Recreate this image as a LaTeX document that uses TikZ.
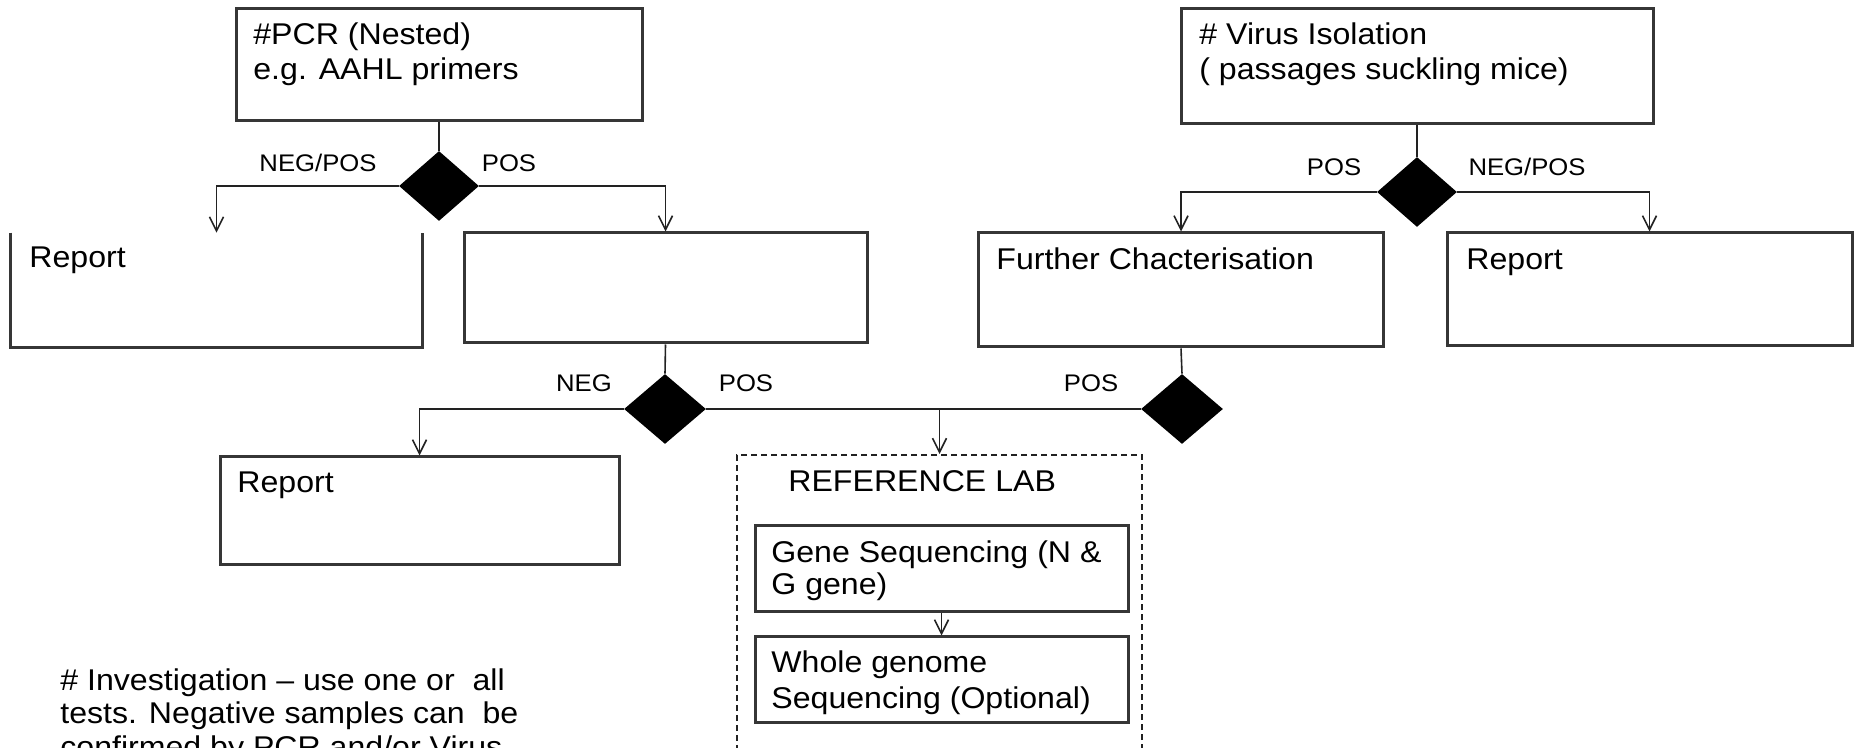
\documentclass[tikz,border=0pt]{standalone}
\usepackage{fontspec}
\setmainfont{Liberation Sans}
\newfontfamily\chartfont[FakeStretch=1.07]{Liberation Sans}
\usetikzlibrary{shapes.geometric,arrows.meta}
\definecolor{ink}{HTML}{222222}
\definecolor{edge}{HTML}{363636}
\begin{document}
\begin{tikzpicture}[x=0.5pt,y=-0.5pt,
  wh/.style 2 args={minimum width=#1*0.5pt,minimum height=#2*0.5pt},
  box/.style={draw=edge,line width=1.5pt,inner sep=0pt,rectangle},
  boxline/.style={draw=edge,line width=1.5pt},
  labbox/.style={draw=ink,line width=1pt,dash pattern=on 3pt off 2pt,inner sep=0pt,rectangle},
  dec/.style={diamond,fill=black,draw=none,inner sep=0pt,minimum width=40pt,minimum height=35pt},
  conn/.style={draw=ink,line width=0.8pt},
  arr/.style={conn,-{Straight Barb[length=7pt,width=7pt]}},
  txt/.style={font=\chartfont\fontsize{15}{18}\selectfont,inner sep=0pt,anchor=base west},
  lbl/.style={font=\chartfont\fontsize{12}{14}\selectfont,inner sep=0pt,anchor=base}]
\useasboundingbox (0,0) rectangle (1854,748);
\clip (0,0) rectangle (1854,748);

% test boxes
\node[box,wh={406}{112}] (pcr) at (439,65) {};
\node[box,wh={472}{115}] (vir) at (1417,66.5) {};

% decisions
\node[dec] (d1) at (439,186) {};
\node[dec] (d3) at (1417,192) {};
\node[dec,minimum width=41pt] (d2) at (665,409) {};
\node[dec,minimum width=41pt] (d4) at (1182,409) {};

% outcome boxes
\node[wh={411}{114},inner sep=0pt] (rep1) at (216.5,290) {};
\draw[boxline] (rep1.north west) -- (rep1.south west) -- (rep1.south east) -- (rep1.north east);
\node[box,wh={403}{110}] (blank) at (665.5,288) {};
\node[box,wh={405}{114}] (fur) at (1181,290) {};
\node[box,wh={405}{113}] (rep3) at (1649.5,289.5) {};
\node[box,wh={399}{108}] (rep2) at (419.5,511) {};

% reference laboratory
\node[labbox,wh={405}{360}] (reflab) at (939.5,635) {};
\node[box,wh={373}{86}] (gene) at (941.5,569) {};
\node[box,wh={373}{85}] (whole) at (941.5,679.5) {};

% connectors
\draw[conn] (pcr.south) -- (d1.north);
\draw[arr] (d1.west) -| (rep1.north);
\draw[arr] (d1.east) -| (blank.north);
\draw[conn] (blank.south) -- (d2.north);
\draw[arr] (d2.west) -| (rep2.north);
\draw[conn] (d2.east) -- (d4.west);
\draw[arr] (d2.east -| reflab.north) -- (reflab.north);
\draw[conn] (vir.south) -- (d3.north);
\draw[arr] (d3.west) -| (fur.north);
\draw[arr] (d3.east) -| (rep3.north);
\draw[conn] (fur.south) -- (d4.north);
\draw[arr] (gene.south) -- (whole.north);

% branch labels
\node[lbl] (l1) at (318,172) {NEG/POS};
\node[lbl] (l2) at (509,172) {POS};
\node[lbl] (l3) at (1334,176) {POS};
\node[lbl] (l4) at (1527,176) {NEG/POS};
\node[lbl] (l5) at (584,392) {NEG};
\node[lbl] (l6) at (746,392) {POS};
\node[lbl] (l7) at (1091,392) {POS};

% box texts
\node[txt] (pcrA) at (253,45) {\#PCR (Nested)};
\node[txt] (pcrB) at (253,80) {e.g. AAHL primers};
\node[txt] (virA) at (1199,45) {\# Virus Isolation};
\node[txt] (virB) at (1199,80) {( passages suckling mice)};
\node[txt] (rep1T) at (29,268) {Report};
\node[txt] (furT) at (996,270) {Further Chacterisation};
\node[txt] (rep3T) at (1466,270) {Report};
\node[txt] (rep2T) at (237,493) {Report};
\node[txt] (labT) at (788,492) {REFERENCE LAB};
\node[txt] (geneA) at (771,563) {Gene Sequencing (N \&};
\node[txt] (geneB) at (771,595) {G gene)};
\node[txt] (wholeA) at (771,673) {Whole genome};
\node[txt] (wholeB) at (771,708) {Sequencing (Optional)};

% footnote, running past the lower edge
\node[txt] (noteA) at (60,690) {\# Investigation – use one or \ all};
\node[txt] (noteB) at (60,723) {tests. Negative samples can \ be};
\node[txt] (noteC) at (60,757) {confirmed by PCR and/or Virus};
\end{tikzpicture}
\end{document}
